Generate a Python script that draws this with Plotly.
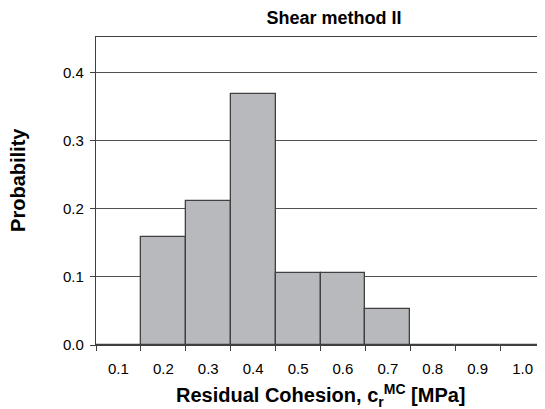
import plotly.graph_objects as go

categories = ['0.1', '0.2', '0.3', '0.4', '0.5', '0.6', '0.7', '0.8', '0.9', '1.0']
probability = [0, 0.158, 0.211, 0.368, 0.105, 0.105, 0.053, 0, 0, 0]
y_ticks = [0.0, 0.1, 0.2, 0.3, 0.4]
y_tick_labels = ['0.0', '0.1', '0.2', '0.3', '0.4']

font = 'Liberation Sans, Arial, sans-serif'

# the page body has an 8px margin, so the figure is drawn 8px smaller
fig = go.Figure(go.Bar(
    x=categories,
    y=probability,
    marker=dict(color='#b7b9bc', line=dict(color='#404040', width=1.3)),
))

fig.update_layout(
    width=537,
    height=401,
    margin=dict(l=88, r=0, t=29, b=64),
    paper_bgcolor='white',
    plot_bgcolor='white',
    bargap=0,
    showlegend=False,
    font=dict(family=font, color='black', size=15),
    title=dict(text='<b>Shear method II</b>', x=0.607, xanchor='center',
               y=1, yref='container', yanchor='top', pad=dict(t=3),
               font=dict(size=18)),
)

# axis titles as annotations so they sit where the original has them
fig.add_annotation(
    text='<b>Residual Cohesion, c<sub>r</sub><sup>MC</sup> [MPa]</b>',
    xref='paper', yref='paper', x=0.5, y=0, xanchor='center', yanchor='middle',
    yshift=-50, showarrow=False, font=dict(size=20),
)
fig.add_annotation(
    text='<b>Probability</b>', textangle=-90,
    xref='paper', yref='paper', x=0, y=0.536, xanchor='center', yanchor='middle',
    xshift=-78, showarrow=False, font=dict(size=20),
)

fig.update_xaxes(
    type='category',
    tickson='boundaries',
    ticks='outside',
    ticklen=5,
    tickcolor='#404040',
    ticklabelstandoff=10,
    showgrid=False,
    showline=True,
    linecolor='#404040',
    linewidth=1.3,
    mirror=True,
    automargin=False,
    tickfont=dict(size=15),
)

fig.update_yaxes(
    range=[0, 0.452],
    tickvals=y_ticks,
    ticktext=y_tick_labels,
    ticks='outside',
    ticklen=5,
    tickcolor='#404040',
    ticklabelstandoff=3,
    showgrid=True,
    gridcolor='#505050',
    gridwidth=1.2,
    showline=True,
    linecolor='#404040',
    linewidth=1.3,
    mirror=True,
    zeroline=False,
    automargin=False,
    tickfont=dict(size=15),
)

fig.write_html('out.html')
